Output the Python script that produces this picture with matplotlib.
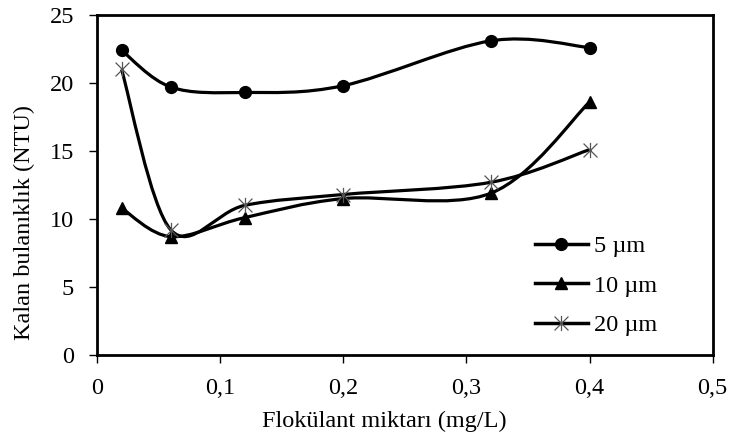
import numpy as np
import matplotlib
matplotlib.use("Agg")
import matplotlib.pyplot as plt
from matplotlib.path import Path
from matplotlib.patches import PathPatch
from matplotlib.lines import Line2D
from matplotlib.ticker import FuncFormatter

plt.rcParams['font.family'] = ['Liberation Serif', 'DejaVu Serif']

doz = [0.02, 0.06, 0.12, 0.2, 0.32, 0.4]
y_5um = [22.4, 19.7, 19.3, 19.8, 23.1, 22.6]
y_10um = [10.8, 8.7, 10.1, 11.5, 11.9, 18.6]
y_20um = [21.0, 9.2, 11.0, 11.8, 12.7, 15.1]
labels = ['5 µm', '10 µm', '20 µm']

# asterisk marker: X with a vertical bar
star = Path([(-1, -1), (1, 1), (-1, 1), (1, -1), (0, -1.1), (0, 1.1)],
            [Path.MOVETO, Path.LINETO, Path.MOVETO, Path.LINETO, Path.MOVETO, Path.LINETO])


def smooth_path(x, y):
    # Excel style smoothed line (Catmull-Rom as cubic Bezier)
    p = np.column_stack([x, y])
    verts = [p[0]]
    codes = [Path.MOVETO]
    n = len(p)
    for i in range(n - 1):
        p0 = p[i - 1] if i > 0 else p[i]
        p1 = p[i]
        p2 = p[i + 1]
        p3 = p[i + 2] if i + 2 < n else p[i + 1]
        c1 = p1 + (p2 - p0) / 6
        c2 = p2 - (p3 - p1) / 6
        verts += [c1, c2, p2]
        codes += [Path.CURVE4] * 3
    return Path(verts, codes)


fig = plt.figure(figsize=(7.34, 4.48), dpi=100)
ax = fig.add_axes([0.132, 0.2076, 0.839, 0.759])

styles = [
    dict(marker='o', ms=8.5, mfc='black', mec='black', mew=1),
    dict(marker='^', ms=9, mfc='black', mec='black', mew=1),
    dict(marker=star, ms=11, mfc='none', mec='#555555', mew=0.9),
]
handles = []
for ys, st, lab in zip([y_5um, y_10um, y_20um], styles, labels):
    ax.add_patch(PathPatch(smooth_path(doz, ys), fill=False, lw=2.3, ec='black', zorder=2))
    ax.plot(doz, ys, ls='none', zorder=3, **st)
    handles.append(Line2D([], [], color='black', lw=2.5, label=lab, **st))

ax.set_xlim(0, 0.5)
ax.set_ylim(0, 25)
ax.set_xticks([0, 0.1, 0.2, 0.3, 0.4, 0.5])
ax.set_yticks([0, 5, 10, 15, 20, 25])
ax.xaxis.set_major_formatter(FuncFormatter(lambda v, p: ('%g' % v).replace('.', ',')))
ax.tick_params(direction='out', length=6, width=1, labelsize=17.5, pad=10.5)
for s in ax.spines.values():
    s.set_linewidth(2)

ax.set_xlabel('Flokülant miktarı (mg/L)', fontsize=17.5, va='center')
ax.set_ylabel('Kalan bulanıklık (NTU)', fontsize=17.5, va='center')
ax.xaxis.set_label_coords(0.466, -0.194)
ax.yaxis.set_label_coords(-0.117, 0.39)

ax.legend(handles=handles, loc='center left', bbox_to_anchor=(0.711, 0.203),
          frameon=False, fontsize=17.5, numpoints=1, handlelength=2.2,
          handletextpad=0.25, labelspacing=0.72, borderpad=0, borderaxespad=0)

fig.savefig('out.png', dpi=100)
